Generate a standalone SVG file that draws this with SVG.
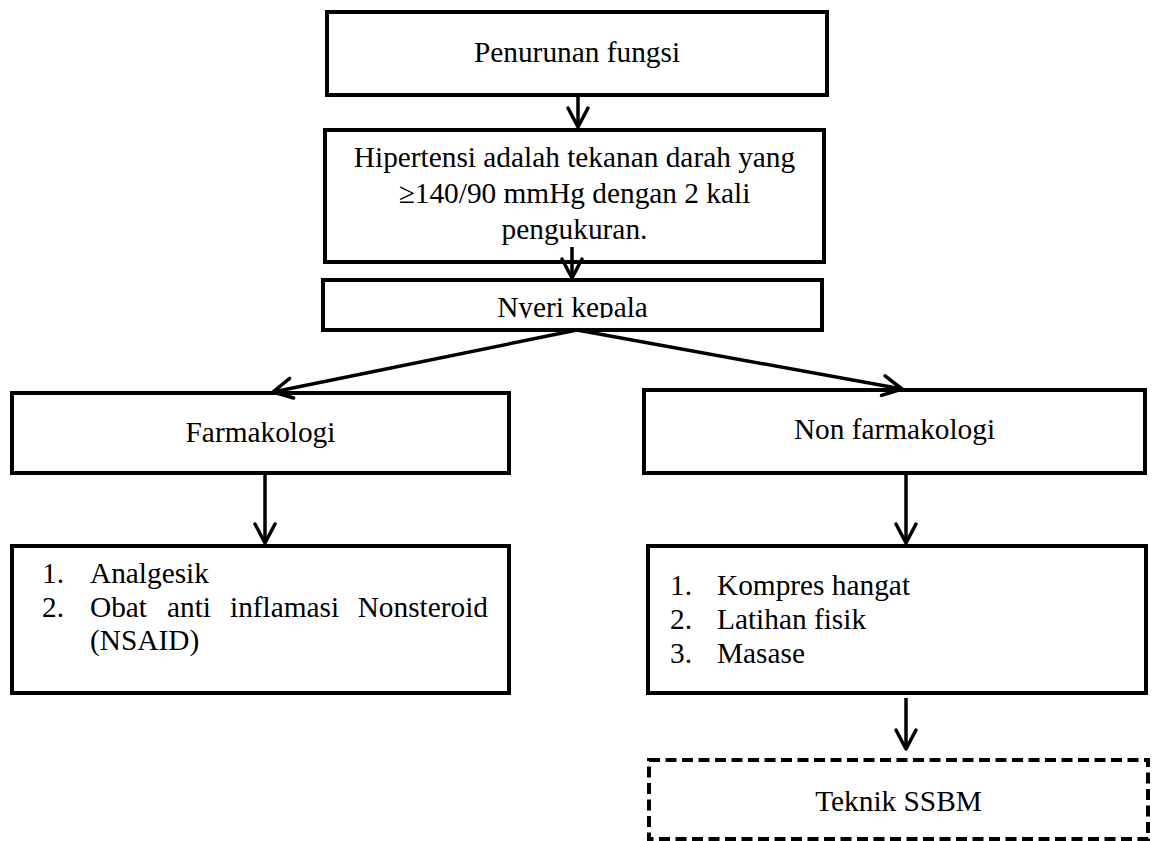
<svg xmlns="http://www.w3.org/2000/svg" width="1152" height="841" viewBox="0 0 1152 841">
  <style>
    .box { fill: #ffffff; stroke: #000000; stroke-width: 4; }
    .dash { fill: #ffffff; stroke: #000000; stroke-width: 4; stroke-dasharray: 11 5.5; }
    .t { font-family: "Liberation Serif", "Times New Roman", serif; font-size: 29.33px; fill: #000000; }
    .c { text-anchor: middle; }
    .conn { fill: none; stroke: #000000; stroke-width: 3.5; marker-end: url(#arr); }
  </style>
  <defs>
    <marker id="arr" markerUnits="userSpaceOnUse" markerWidth="40" markerHeight="40" refX="0" refY="0" orient="auto" overflow="visible">
      <path d="M-19,-10 L0,0 L-19,10" fill="none" stroke="#000000" stroke-width="3.5" stroke-linejoin="round" stroke-linecap="round"/>
    </marker>
    <clipPath id="clipNyeri">
      <rect x="323" y="280" width="499" height="38"/>
    </clipPath>
  </defs>
  <rect width="1152" height="841" fill="#ffffff"/>

  <g id="node-penurunan">
    <rect class="box" x="327" y="12" width="500" height="83"/>
    <text class="t c" x="577" y="62">Penurunan fungsi</text>
  </g>

  <g id="node-hipertensi">
    <rect class="box" x="325" y="130" width="499" height="132"/>
    <text class="t c" x="574.5" y="167">Hipertensi adalah tekanan darah yang</text>
    <text class="t c" x="574.5" y="203">≥140/90 mmHg dengan 2 kali</text>
    <text class="t c" x="574.5" y="239">pengukuran.</text>
  </g>

  <g id="node-nyeri">
    <rect class="box" x="323" y="280" width="499" height="50"/>
    <text class="t c" x="572.5" y="316.5" clip-path="url(#clipNyeri)">Nyeri kepala</text>
  </g>

  <g id="node-farmakologi">
    <rect class="box" x="12" y="393" width="497" height="80"/>
    <text class="t c" x="260.5" y="442">Farmakologi</text>
  </g>

  <g id="node-farmakologi-list">
    <rect class="box" x="12" y="546" width="497" height="147"/>
    <text class="t" x="42" y="583">1.</text>
    <text class="t" x="90" y="583">Analgesik</text>
    <text class="t" x="42" y="617">2.</text>
    <text class="t" x="90" y="617">Obat</text>
    <text class="t" x="167" y="617">anti</text>
    <text class="t" x="230" y="617">inflamasi</text>
    <text class="t" x="488" y="617" text-anchor="end">Nonsteroid</text>
    <text class="t" x="90" y="650">(NSAID)</text>
  </g>

  <g id="node-nonfarmakologi">
    <rect class="box" x="644" y="390" width="501" height="83"/>
    <text class="t c" x="894.5" y="439">Non farmakologi</text>
  </g>

  <g id="node-nonfarmakologi-list">
    <rect class="box" x="648" y="546" width="498" height="147"/>
    <text class="t" x="670" y="595">1.</text>
    <text class="t" x="717" y="595">Kompres hangat</text>
    <text class="t" x="670" y="629">2.</text>
    <text class="t" x="717" y="629">Latihan fisik</text>
    <text class="t" x="670" y="663">3.</text>
    <text class="t" x="717" y="663">Masase</text>
  </g>

  <g id="node-ssbm">
    <rect class="dash" x="649" y="760" width="499" height="79"/>
    <text class="t c" x="898.5" y="811">Teknik SSBM</text>
  </g>

  <g id="connectors">
    <path class="conn" d="M578,95 L578,127"/>
    <path class="conn" d="M572,247 L572,278"/>
    <path class="conn" d="M577,330 L273,392"/>
    <path class="conn" d="M577,330 L902,389"/>
    <path class="conn" d="M265,473 L265,543"/>
    <path class="conn" d="M906,473 L906,543"/>
    <path class="conn" d="M906,698 L906,749"/>
  </g>
</svg>
